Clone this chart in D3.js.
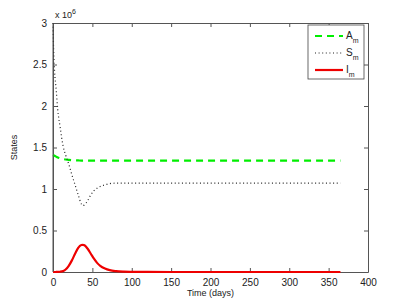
<!DOCTYPE html>
<html>
<head>
<meta charset="utf-8">
<script src="https://cdn.jsdelivr.net/npm/d3@7"></script>
<style>
  body { margin: 0; background: #fff; }
  svg { font-family: "Liberation Sans", Arial, sans-serif; }
  .tick text { font-size: 10px; fill: #222; }
</style>
</head>
<body>
<svg width="407" height="306"></svg>
<script>
// Time points (days)
const days = [0, 1, 2, 4, 6, 9, 13, 16, 20, 24, 28, 32, 36, 38, 40, 44, 48, 52, 56, 60, 66, 72, 80, 90, 100, 120, 150, 200, 250, 300, 365];

// Series values, in millions
const aM = [1.41, 1.405, 1.40, 1.39, 1.38, 1.37, 1.36, 1.355, 1.35, 1.347, 1.345, 1.344, 1.343, 1.343, 1.343, 1.343, 1.343, 1.343, 1.343, 1.343, 1.343, 1.343, 1.343, 1.343, 1.343, 1.343, 1.343, 1.343, 1.343, 1.343, 1.343];
const sM = [3.0, 2.62, 2.42, 2.2, 1.96, 1.75, 1.51, 1.41, 1.30, 1.17, 1.05, 0.93, 0.82, 0.80, 0.81, 0.86, 0.93, 0.98, 1.01, 1.03, 1.05, 1.065, 1.07, 1.07, 1.07, 1.07, 1.07, 1.07, 1.07, 1.07, 1.07];
const iM = [0, 0, 0, 0.0005, 0.001, 0.003, 0.012, 0.03, 0.075, 0.14, 0.22, 0.29, 0.325, 0.328, 0.322, 0.28, 0.22, 0.16, 0.11, 0.075, 0.042, 0.022, 0.01, 0.004, 0.002, 0.0005, 0, 0, 0, 0, 0];

const xTicks = [0, 50, 100, 150, 200, 250, 300, 350, 400];
const yTicks = [0, 0.5, 1, 1.5, 2, 2.5, 3];

const series = [
  { name: "A", values: aM, color: "#00ee00", width: 2.2, dash: "7,5" },
  { name: "S", values: sM, color: "#222", width: 1.2, dash: "1,2.6" },
  { name: "I", values: iM, color: "#ee0000", width: 2.2, dash: null }
];

const svg = d3.select("svg");
const plotL = 53, plotR = 368, plotT = 23, plotB = 272;

const xScale = d3.scaleLinear().domain([0, 400]).range([plotL, plotR]);
const yScale = d3.scaleLinear().domain([0, 3]).range([plotB, plotT]);

// axes on all four sides, ticks pointing inward
const axisColor = "#555";
const addAxis = (axis, tx, ty, labels) => {
  const g = svg.append("g")
    .attr("transform", `translate(${tx}, ${ty})`)
    .call(axis);
  g.select(".domain").attr("stroke", axisColor);
  g.selectAll(".tick line").attr("stroke", axisColor);
  if (!labels) g.selectAll(".tick text").remove();
  return g;
};

addAxis(d3.axisBottom(xScale).tickValues(xTicks).tickSizeInner(-4).tickSizeOuter(0).tickPadding(7), 0, plotB, true);
addAxis(d3.axisTop(xScale).tickValues(xTicks).tickSizeInner(-4).tickSizeOuter(0), 0, plotT, false);
addAxis(d3.axisLeft(yScale).tickValues(yTicks).tickFormat(d3.format("")).tickSizeInner(-4).tickSizeOuter(0).tickPadding(6), plotL, 0, true);
addAxis(d3.axisRight(yScale).tickValues(yTicks).tickSizeInner(-4).tickSizeOuter(0), plotR, 0, false);

// lines
const line = (vals) => d3.line()
  .x((d, i) => xScale(days[i]))
  .y(d => yScale(d))
  .curve(d3.curveMonotoneX)(vals);

series.forEach(s => {
  svg.append("path")
    .attr("d", line(s.values))
    .attr("fill", "none")
    .attr("stroke", s.color)
    .attr("stroke-width", s.width)
    .attr("stroke-dasharray", s.dash);
});

// left axis line back on top of the curves
svg.append("line").attr("x1", plotL).attr("x2", plotL).attr("y1", plotT).attr("y2", plotB).attr("stroke", axisColor);

// exponent label
const expo = svg.append("text").attr("x", 55).attr("y", 18).attr("font-size", 9).attr("fill", "#222");
expo.append("tspan").text("x 10");
expo.append("tspan").attr("font-size", 7).attr("dy", -4).text("6");

// axis titles
svg.append("text")
  .attr("x", (plotL + plotR) / 2)
  .attr("y", 296)
  .attr("text-anchor", "middle")
  .attr("font-size", 9)
  .attr("fill", "#222")
  .text("Time (days)");

svg.append("text")
  .attr("transform", "rotate(-90)")
  .attr("x", -(plotT + plotB) / 2)
  .attr("y", 17)
  .attr("text-anchor", "middle")
  .attr("font-size", 9)
  .attr("fill", "#222")
  .text("States");

// legend
const legend = svg.append("g").attr("transform", "translate(308, 25)");
legend.append("rect")
  .attr("width", 56).attr("height", 54)
  .attr("fill", "#fff").attr("stroke", "#444").attr("stroke-width", 0.8);

series.forEach((s, i) => {
  const y = 11 + i * 17;
  legend.append("line")
    .attr("x1", 7).attr("x2", 35).attr("y1", y).attr("y2", y)
    .attr("stroke", s.color)
    .attr("stroke-width", s.width)
    .attr("stroke-dasharray", s.dash);
  const t = legend.append("text").attr("x", 38).attr("y", y + 3).attr("font-size", 10).attr("fill", "#222");
  t.append("tspan").text(s.name);
  t.append("tspan").attr("font-size", 7).attr("dy", 4).text("m");
});
</script>
</body>
</html>
